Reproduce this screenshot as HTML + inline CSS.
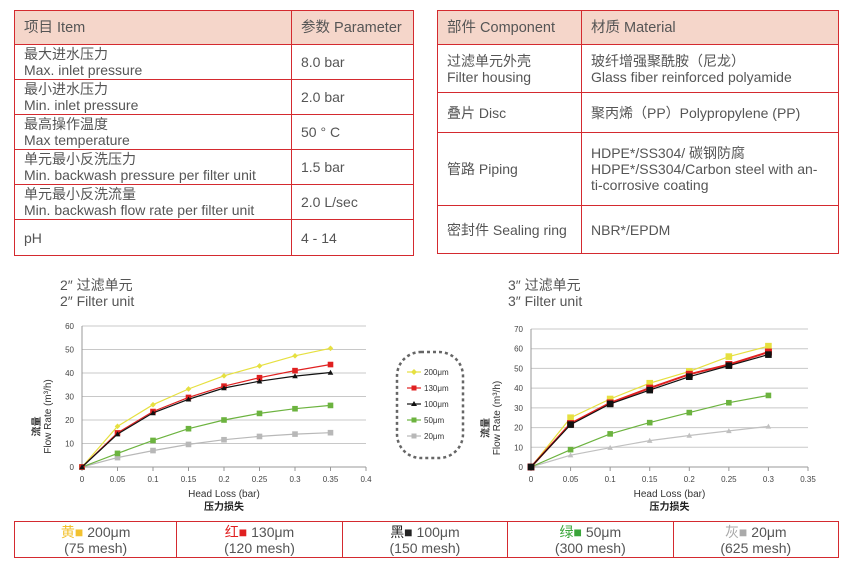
<!DOCTYPE html>
<html><head><meta charset="utf-8"><style>
body{margin:0;width:865px;height:572px;background:#fff;position:relative;font-family:"Liberation Sans","Noto Sans CJK SC",sans-serif;color:#555;overflow:hidden}
table{position:absolute;border-collapse:collapse;font-size:14px;line-height:16px}
td{border:1px solid #d42a2f;padding:0 9px;vertical-align:middle}
.h td{background:#f5d6ca;font-size:14.5px}
.t{position:absolute;font-size:14px;line-height:16px;color:#555}
#b td{text-align:center;padding:0}
</style></head><body>
<table style="left:14px;top:10px;width:400px">
<tr class="h" style="height:34px"><td style="width:258px">项目 Item</td><td>参数 Parameter</td></tr>
<tr style="height:35px"><td>最大进水压力<br>Max. inlet pressure</td><td>8.0 bar</td></tr>
<tr style="height:35px"><td>最小进水压力<br>Min. inlet pressure</td><td>2.0 bar</td></tr>
<tr style="height:35px"><td>最高操作温度<br>Max temperature</td><td>50 ° C</td></tr>
<tr style="height:35px"><td>单元最小反洗压力<br>Min. backwash pressure per filter unit</td><td>1.5 bar</td></tr>
<tr style="height:35px"><td>单元最小反洗流量<br>Min. backwash flow rate per filter unit</td><td>2.0 L/sec</td></tr>
<tr style="height:36px"><td>pH</td><td>4 - 14</td></tr>
</table>
<table style="left:437px;top:10px;width:402px">
<tr class="h" style="height:34px"><td style="width:125px">部件 Component</td><td>材质 Material</td></tr>
<tr style="height:48px"><td>过滤单元外壳<br>Filter housing</td><td>玻纤增强聚酰胺（尼龙）<br>Glass fiber reinforced polyamide</td></tr>
<tr style="height:40px"><td>叠片 Disc</td><td>聚丙烯（PP）Polypropylene (PP)</td></tr>
<tr style="height:73px"><td>管路 Piping</td><td>HDPE*/SS304/ 碳钢防腐<br>HDPE*/SS304/Carbon steel with an-<br>ti-corrosive coating</td></tr>
<tr style="height:48px"><td>密封件 Sealing ring</td><td>NBR*/EPDM</td></tr>
</table>
<div class="t" style="left:60px;top:277px">2″ 过滤单元<br>2″ Filter unit</div>
<div class="t" style="left:508px;top:277px">3″ 过滤单元<br>3″ Filter unit</div>
<svg id="s" width="865" height="572" style="position:absolute;left:0;top:0" font-family="Liberation Sans, Noto Sans CJK SC, sans-serif"></svg>
<table id="b" style="left:14px;top:521px;width:825px">
<tr style="height:36px">
<td><span style="color:#f2c12e">黄■</span> 200μm<br>(75 mesh)</td>
<td><span style="color:#e02020">红■</span> 130μm<br>(120 mesh)</td>
<td><span style="color:#222">黑■</span> 100μm<br>(150 mesh)</td>
<td><span style="color:#3aa53a">绿■</span> 50μm<br>(300 mesh)</td>
<td><span style="color:#aaa">灰■</span> 20μm<br>(625 mesh)</td>
</tr></table>
<script>
var s=document.getElementById('s'),h='';
function chart(x0,x1,xmax,xstep,y0,y1,ymax,ystep,series){
 var X=v=>x0+(x1-x0)*v/xmax,Y=v=>y0-(y0-y1)*v/ymax;
 for(var v=0;v<=ymax+1e-9;v+=ystep){h+='<line x1="'+x0+'" x2="'+x1+'" y1="'+Y(v)+'" y2="'+Y(v)+'" stroke="'+(v?'#c8c8c8':'#999')+'"/>';
  h+='<text x="'+(x0-8)+'" y="'+(Y(v)+3)+'" font-size="8" text-anchor="end" fill="#444">'+v+'</text>';}
 for(var i=0;i*xstep<=xmax+1e-9;i++){var v=+(i*xstep).toFixed(2);h+='<line x1="'+X(v)+'" x2="'+X(v)+'" y1="'+y0+'" y2="'+(y0+4)+'" stroke="#999"/><text x="'+X(v)+'" y="'+(y0+15)+'" font-size="8" text-anchor="middle" fill="#444">'+v+'</text>';}
 h+='<line x1="'+x0+'" x2="'+x0+'" y1="'+y1+'" y2="'+y0+'" stroke="#999"/>';
 series.forEach(function(sr){var p=sr.d.map((v,i)=>X(i*0.05).toFixed(1)+','+Y(v).toFixed(1)).join(' ');
  h+='<polyline points="'+p+'" fill="none" stroke="'+sr.c+'" stroke-width="'+(sr.w||1.2)+'"/>';
  sr.d.forEach(function(v,i){var x=X(i*0.05),y=Y(v),m=sr.m,r=sr.r||2.8;
   if(m=='t')h+='<polygon points="'+x+','+(y-r)+' '+(x-r)+','+(y+r*0.8)+' '+(x+r)+','+(y+r*0.8)+'" fill="'+sr.c+'"/>';
   else if(m=='d')h+='<polygon points="'+x+','+(y-r)+' '+(x+r)+','+y+' '+x+','+(y+r)+' '+(x-r)+','+y+'" fill="'+sr.c+'"/>';
   else h+='<rect x="'+(x-r)+'" y="'+(y-r)+'" width="'+2*r+'" height="'+2*r+'" fill="'+sr.c+'"/>';});});
 var cx=(x0+x1)/2;
 h+='<text x="'+cx+'" y="'+(y0+30)+'" font-size="10" text-anchor="middle" fill="#333">Head Loss (bar)</text><text x="'+cx+'" y="'+(y0+43)+'" font-size="10" font-weight="bold" text-anchor="middle" fill="#222">压力损失</text>';
 var my=(y0+y1)/2+30;
 h+='<text transform="translate('+(x0-42)+','+my+') rotate(-90)" font-size="10" text-anchor="middle" fill="#333" font-weight="bold">流量</text><text transform="translate('+(x0-31)+','+(my-10)+') rotate(-90)" font-size="10" text-anchor="middle" fill="#333">Flow Rate (m³/h)</text>';
}
chart(82,366,0.4,0.05,467,326,60,10,[
 {c:'#b8b8b8',m:'s',d:[0,4,7,9.6,11.6,13,14,14.6]},
 {c:'#6cb33f',m:'s',d:[0,5.8,11.3,16.3,20,22.8,24.8,26.2]},
 {c:'#e6e040',m:'d',d:[0,17.3,26.5,33.2,38.8,43,47.3,50.5]},
 {c:'#e02020',m:'s',d:[0,14.5,23.6,29.6,34.4,38,41,43.6]},
 {c:'#111',m:'t',d:[0,14,23,28.8,33.6,36.5,38.7,40.2]}]);
chart(531,808,0.35,0.05,467,329,70,10,[
 {c:'#c0c0c0',m:'t',d:[0,6,9.8,13.4,16,18.3,20.6]},
 {c:'#6cb33f',m:'s',d:[0,8.8,16.8,22.5,27.6,32.6,36.3]},
 {c:'#e6e040',m:'s',r:3.3,d:[0,25,34.5,42.5,48.5,56,61.3]},
 {c:'#e02020',m:'s',r:3.5,w:2,d:[0,22,32.5,40,47,52,58.3]},
 {c:'#111',m:'s',r:3.3,d:[0,21.5,32,39,45.8,51.4,57]}]);
h+='<rect x="397" y="352" width="66" height="106" rx="24" fill="none" stroke="#666" stroke-width="2.5" stroke-dasharray="3,3"/>';
[['#e6e040','d','200μm'],['#e02020','s','130μm'],['#111','t','100μm'],['#6cb33f','s','50μm'],['#b8b8b8','s','20μm']].forEach(function(l,i){
 var y=372+i*16;h+='<line x1="407" x2="421" y1="'+y+'" y2="'+y+'" stroke="'+l[0]+'" stroke-width="1.2"/>';
 if(l[1]=='d')h+='<polygon points="414,'+(y-3)+' 417,'+y+' 414,'+(y+3)+' 411,'+y+'" fill="'+l[0]+'"/>';
 else if(l[1]=='t')h+='<polygon points="414,'+(y-3)+' 411,'+(y+2)+' 417,'+(y+2)+'" fill="'+l[0]+'"/>';
 else h+='<rect x="411.5" y="'+(y-2.5)+'" width="5" height="5" fill="'+l[0]+'"/>';
 h+='<text x="424" y="'+(y+3)+'" font-size="8" fill="#333">'+l[2]+'</text>';});
s.innerHTML=h;
</script>
</body></html>
